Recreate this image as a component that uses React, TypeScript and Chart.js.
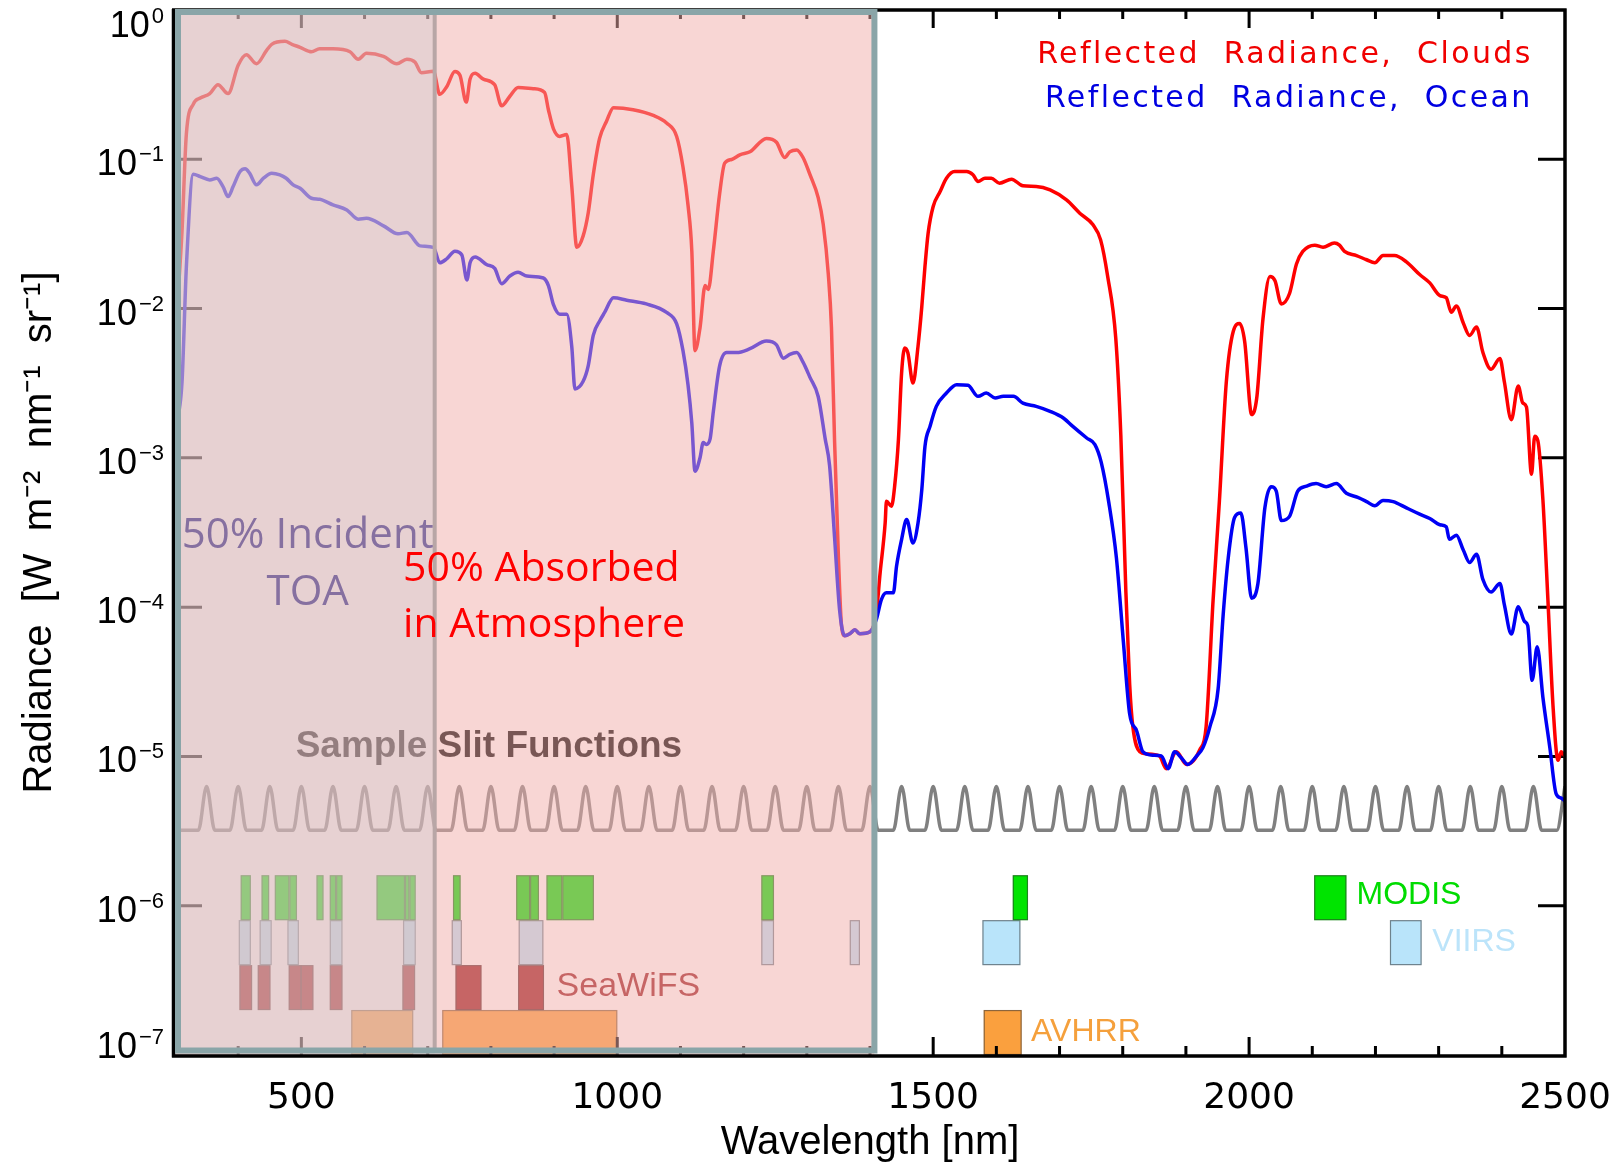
import React, { useEffect, useRef } from 'react';
import { Chart, registerables } from 'chart.js';

Chart.register(...registerables);

// ---------------- data (wavelength in nm, radiance as log10 of W m-2 nm-1 sr-1) ----------------
const cloudWavelength = [300,305,311,318,329,340,355,368,384,400,413,429,445,453,474,485,498,516,529,550,577,590,603,630,651,667,680,690,709,719,730,743,751,761,767,775,788,806,817,830,843,867,885,891,899,909,920,928,936,946,954,962,972,983,994,1025,1057,1078,1094,1104,1112,1118,1123,1131,1139,1144,1152,1162,1170,1181,1194,1210,1236,1252,1265,1273,1284,1294,1305,1318,1326,1334,1339,1344,1350,1355,1360,1368,1376,1384,1400,1410,1416,1424,1426,1434,1439,1445,1450,1455,1460,1468,1476,1482,1487,1492,1500,1511,1521,1534,1553,1563,1571,1582,1592,1605,1624,1642,1663,1685,1711,1732,1753,1765,1776,1789,1797,1805,1811,1816,1827,1837,1858,1869,1885,1901,1922,1932,1943,1953,1964,1975,1985,1993,2004,2012,2022,2033,2041,2051,2064,2075,2085,2104,2117,2135,2143,2151,2170,2186,2199,2212,2230,2249,2270,2286,2302,2312,2320,2328,2339,2349,2360,2370,2383,2397,2404,2415,2426,2433,2439,2447,2452,2457,2465,2473,2481,2489,2494,2500];
const cloudLogRadiance = [-2.2,-1.9,-1.49,-0.83,-0.63,-0.59,-0.56,-0.5,-0.56,-0.37,-0.3,-0.36,-0.27,-0.23,-0.21,-0.23,-0.25,-0.28,-0.26,-0.26,-0.28,-0.33,-0.29,-0.31,-0.36,-0.33,-0.35,-0.42,-0.41,-0.565,-0.514,-0.412,-0.437,-0.617,-0.463,-0.424,-0.463,-0.501,-0.642,-0.578,-0.519,-0.527,-0.552,-0.668,-0.796,-0.847,-0.834,-1.18,-1.59,-1.513,-1.36,-1.103,-0.86,-0.745,-0.655,-0.668,-0.706,-0.757,-0.847,-1.052,-1.308,-1.616,-2.282,-2.128,-1.846,-1.872,-1.616,-1.231,-1.026,-1.001,-0.97,-0.95,-0.86,-0.886,-0.988,-0.95,-0.937,-0.988,-1.103,-1.257,-1.436,-1.769,-2.128,-2.897,-3.665,-4.127,-4.191,-4.178,-4.152,-4.178,-4.165,-4.038,-3.771,-3.436,-3.291,-3.324,-3.19,-2.878,-2.432,-2.264,-2.298,-2.499,-2.253,-1.986,-1.718,-1.495,-1.316,-1.216,-1.127,-1.082,-1.082,-1.104,-1.149,-1.127,-1.127,-1.16,-1.133,-1.178,-1.182,-1.205,-1.272,-1.361,-1.439,-1.54,-1.78,-2.2,-2.85,-3.9,-4.518,-4.8,-4.969,-4.983,-4.997,-5.082,-4.969,-5.054,-4.955,-4.8,-3.955,-3.29,-2.49,-2.152,-2.1,-2.22,-2.71,-2.603,-2.068,-1.786,-1.814,-1.969,-1.899,-1.701,-1.617,-1.575,-1.589,-1.561,-1.575,-1.617,-1.645,-1.673,-1.693,-1.645,-1.645,-1.687,-1.772,-1.828,-1.913,-1.927,-2.025,-1.983,-2.096,-2.18,-2.124,-2.293,-2.406,-2.335,-2.49,-2.744,-2.518,-2.631,-2.659,-3.11,-2.856,-2.885,-3.279,-3.955,-4.659,-5.026,-4.969,-5.0];

const oceanWavelength = [300,311,318,329,340,355,366,376,384,392,403,411,418,429,440,453,466,476,487,498,516,529,550,572,590,603,630,653,667,688,709,719,730,743,754,762,767,775,793,806,817,830,843,857,883,891,899,909,920,928,933,946,954,962,973,980,994,1015,1046,1078,1094,1104,1112,1118,1123,1131,1136,1141,1147,1152,1162,1173,1189,1210,1236,1252,1263,1273,1284,1294,1305,1318,1329,1336,1344,1352,1360,1368,1376,1384,1400,1410,1418,1426,1437,1442,1450,1458,1468,1476,1482,1487,1495,1505,1521,1537,1555,1571,1584,1598,1611,1627,1642,1663,1685,1706,1721,1743,1756,1766,1778,1790,1801,1811,1822,1832,1848,1861,1872,1882,1893,1903,1917,1927,1938,1951,1959,1967,1977,1987,1995,2004,2014,2025,2035,2043,2051,2064,2077,2091,2106,2122,2138,2154,2172,2186,2199,2212,2228,2249,2270,2286,2302,2312,2317,2328,2339,2349,2360,2370,2383,2397,2404,2415,2426,2436,2441,2448,2456,2465,2476,2486,2494,2500];
const oceanLogRadiance = [-2.8,-2.5,-1.72,-1.1,-1.116,-1.138,-1.127,-1.183,-1.25,-1.183,-1.082,-1.064,-1.093,-1.171,-1.127,-1.093,-1.104,-1.127,-1.171,-1.194,-1.261,-1.268,-1.305,-1.339,-1.401,-1.395,-1.446,-1.499,-1.49,-1.58,-1.59,-1.693,-1.667,-1.616,-1.641,-1.808,-1.693,-1.654,-1.705,-1.731,-1.833,-1.782,-1.757,-1.782,-1.795,-1.846,-1.974,-2.038,-2.038,-2.256,-2.538,-2.487,-2.384,-2.179,-2.077,-2.026,-1.928,-1.944,-1.969,-2.026,-2.102,-2.282,-2.512,-2.769,-3.089,-2.999,-2.897,-2.91,-2.871,-2.692,-2.384,-2.295,-2.295,-2.269,-2.218,-2.243,-2.333,-2.307,-2.295,-2.359,-2.461,-2.589,-2.871,-3.05,-3.537,-4.024,-4.191,-4.178,-4.152,-4.178,-4.165,-4.083,-3.949,-3.904,-3.904,-3.726,-3.547,-3.413,-3.57,-3.436,-3.213,-2.923,-2.789,-2.655,-2.566,-2.51,-2.514,-2.588,-2.566,-2.599,-2.588,-2.588,-2.633,-2.655,-2.688,-2.733,-2.789,-2.867,-2.911,-3.03,-3.3,-3.67,-4.23,-4.716,-4.828,-4.969,-4.992,-4.997,-5.082,-4.969,-5.011,-5.054,-4.997,-4.941,-4.8,-4.547,-4.05,-3.67,-3.4,-3.37,-3.6,-3.94,-3.842,-3.335,-3.194,-3.223,-3.42,-3.392,-3.223,-3.189,-3.172,-3.194,-3.172,-3.237,-3.265,-3.293,-3.321,-3.285,-3.293,-3.335,-3.377,-3.406,-3.448,-3.462,-3.546,-3.518,-3.617,-3.701,-3.645,-3.814,-3.899,-3.842,-3.983,-4.18,-3.997,-4.096,-4.124,-4.49,-4.265,-4.603,-4.941,-5.251,-5.279,-5.3];

// sample slit functions
const slitCenters = [350,400,450,500,550,600,650,700,750,800,850,900,950,1000,1050,1100,1150,1200,1250,1300,1350,1400,1450,1500,1550,1600,1650,1700,1750,1800,1850,1900,1950,2000,2050,2100,2150,2200,2250,2300,2350,2400,2450,2500];
const slitBase = 3.2e-6;
const slitPeak = 6.3e-6;
const slitHalfWidth = 13;

// instrument bands [start nm, end nm]
const modisBands = [[404,420],[437,449],[458,481],[481,493],[524,535],[545,555],[555,565],[619,664],[664,671],[671,681],[740,752],[840,862],[862,876],[888,913],[913,963],[1228,1248],[1626,1650],[2103,2154]];
const viirsBands = [[401,420],[434,453],[478,496],[545,565],[661,681],[738,754],[844,883],[1228,1248],[1368,1384],[1578,1638],[2223,2273]];
const seawifsBands = [[402,422],[431,451],[480,500],[499,519],[545,565],[660,680],[744,785],[843,884]];
const avhrrBands = [[579,677],[723,1000],[1580,1640]];
// rows of the band chart, radiance range [low, high]
const modisRow = [8e-7, 1.6e-6];
const viirsRow = [4e-7, 8e-7];
const seawifsRow = [2e-7, 4e-7];
const avhrrRow = [1e-7, 2e-7];

// shaded regions (nm)
const absorbedRegion = [300, 1407];
const incidentRegion = [300, 711];

// ticks
const xMajorTicks = [500, 1000, 1500, 2000, 2500];
const yDecades = [1e-7, 1e-6, 1e-5, 1e-4, 1e-3, 1e-2, 1e-1, 1];

// ---------------- helpers ----------------
const toPoints = (xs: number[], logs: number[]) => xs.map((w, i) => ({ x: w, y: Math.pow(10, logs[i]) }));

function slitPoints() {
  const pts: { x: number; y: number }[] = [{ x: 300, y: slitBase }];
  slitCenters.forEach((c) => {
    pts.push({ x: c - slitHalfWidth, y: slitBase });
    pts.push({ x: c, y: slitPeak });
    if (c + slitHalfWidth <= 2500) pts.push({ x: c + slitHalfWidth, y: slitBase });
  });
  return pts;
}

const annotationPlugin = {
  id: 'annotations',
  beforeDatasetsDraw(chart: any) {
    const { ctx, chartArea: ca, scales } = chart;
    const x = scales.x, y = scales.y;
    const px = (v: number) => x.getPixelForValue(v);
    const py = (lg: number) => y.getPixelForValue(Math.pow(10, lg));
    ctx.save();
    const drawBands = (bands: number[][], row: number[], fill: string) => {
      const yTop = y.getPixelForValue(row[1]);
      const yBot = y.getPixelForValue(row[0]);
      bands.forEach(([a, b]) => {
        const x0 = px(a), x1 = px(b);
        ctx.fillStyle = fill;
        ctx.fillRect(x0, yTop, x1 - x0, yBot - yTop);
        ctx.strokeStyle = 'rgba(50,50,50,0.55)';
        ctx.lineWidth = 1.2;
        ctx.strokeRect(x0 + 0.5, yTop + 0.5, x1 - x0 - 1, yBot - yTop - 1);
      });
    };
    drawBands(avhrrBands, avhrrRow, 'rgb(250,160,62)');
    drawBands(seawifsBands, seawifsRow, 'rgb(155,28,32)');
    drawBands(viirsBands, viirsRow, 'rgb(185,228,250)');
    drawBands(modisBands, modisRow, 'rgb(0,228,0)');

    // labels that sit under the shading
    ctx.textAlign = 'left';
    ctx.textBaseline = 'alphabetic';
    ctx.fillStyle = '#000';
    ctx.font = 'bold 37px "Liberation Sans", Arial, sans-serif';
    ctx.fillText('Sample Slit Functions', px(491), py(-5.007));
    ctx.fillStyle = 'rgb(155,28,32)';
    ctx.font = '34px "Liberation Sans", Arial, sans-serif';
    ctx.fillText('SeaWiFS', px(904), py(-6.606));

    // inward tick marks
    ctx.strokeStyle = '#000';
    ctx.lineWidth = 3;
    ctx.beginPath();
    for (let v = 400; v <= 2400; v += 100) {
      const p = px(v);
      const len = xMajorTicks.includes(v) ? 18 : 9;
      ctx.moveTo(p, ca.bottom); ctx.lineTo(p, ca.bottom - len);
      ctx.moveTo(p, ca.top); ctx.lineTo(p, ca.top + len);
    }
    yDecades.slice(1, -1).forEach((d) => {
      const p = y.getPixelForValue(d);
      ctx.moveTo(ca.left, p); ctx.lineTo(ca.left + 27, p);
      ctx.moveTo(ca.right, p); ctx.lineTo(ca.right - 27, p);
    });
    ctx.stroke();
    ctx.restore();
  },
  afterDatasetsDraw(chart: any) {
    const { ctx, chartArea: ca, scales } = chart;
    const x = scales.x, y = scales.y;
    const px = (v: number) => x.getPixelForValue(v);
    const py = (lg: number) => y.getPixelForValue(Math.pow(10, lg));
    ctx.save();
    const xl = px(absorbedRegion[0]);
    const xr = px(absorbedRegion[1]);
    const xg = px(incidentRegion[1]);
    // 50% absorbed shading
    ctx.fillStyle = 'rgba(241,173,169,0.5)';
    ctx.fillRect(xl, ca.top, xr - xl, ca.bottom - ca.top);
    // 50% incident shading
    ctx.fillStyle = 'rgba(200,200,205,0.35)';
    ctx.fillRect(xl, ca.top, xg - xl, ca.bottom - ca.top);
    ctx.strokeStyle = 'rgb(184,166,166)';
    ctx.lineWidth = 4;
    ctx.beginPath();
    ctx.moveTo(xg, ca.top + 4); ctx.lineTo(xg, ca.bottom - 6);
    ctx.stroke();

    // black frame
    ctx.strokeStyle = '#000';
    ctx.lineWidth = 3.5;
    ctx.beginPath();
    ctx.moveTo(ca.left - 1.5, ca.top - 1); ctx.lineTo(ca.left - 1.5, ca.bottom + 2.5);
    ctx.moveTo(ca.left - 3, ca.bottom + 1); ctx.lineTo(ca.right + 1.5, ca.bottom + 1);
    ctx.moveTo(ca.right, ca.bottom + 2.5); ctx.lineTo(ca.right, ca.top - 1.5);
    ctx.moveTo(ca.right + 1.5, ca.top); ctx.lineTo(ca.left - 3, ca.top);
    ctx.stroke();

    // teal border of the absorbed box
    ctx.strokeStyle = 'rgb(138,165,168)';
    ctx.lineWidth = 6;
    ctx.strokeRect(xl + 3, ca.top + 2, xr - xl - 3, ca.bottom - 4.5 - ca.top - 2);

    // labels on top
    ctx.textBaseline = 'alphabetic';
    ctx.font = '42px "Open Sans", sans-serif';
    ctx.fillStyle = '#8670A0';
    ctx.textAlign = 'center';
    ctx.fillText('50% Incident', px(510), py(-3.601));
    ctx.fillText('TOA', px(510), py(-3.983));
    ctx.font = '41px "Open Sans", sans-serif';
    ctx.fillStyle = '#ff0000';
    ctx.textAlign = 'left';
    ctx.fillText('50% Absorbed', px(661), py(-3.822));
    ctx.fillText('in Atmosphere', px(661), py(-4.197));

    ctx.font = '32px "Liberation Sans", Arial, sans-serif';
    ctx.fillStyle = 'rgb(0,220,0)';
    ctx.fillText('MODIS', px(2170), py(-5.991));
    ctx.fillStyle = 'rgb(188,228,250)';
    ctx.fillText('VIIRS', px(2290), py(-6.305));
    ctx.fillStyle = 'rgb(245,160,60)';
    ctx.fillText('AVHRR', px(1655), py(-6.908));

    // legend
    ctx.font = '30px "DejaVu Sans", sans-serif';
    try { (ctx as any).letterSpacing = '2.4px'; } catch (e) {}
    ctx.textAlign = 'right';
    ctx.fillStyle = 'rgb(240,0,0)';
    ctx.fillText('Reflected  Radiance,  Clouds', px(2449), py(-0.355));
    ctx.fillStyle = 'rgb(0,0,225)';
    ctx.fillText('Reflected  Radiance,  Ocean', px(2449), py(-0.649));
    try { (ctx as any).letterSpacing = '0px'; } catch (e) {}
    ctx.restore();
  },
  afterDraw(chart: any) {
    const { ctx, chartArea: ca, scales } = chart;
    const y = scales.y;
    ctx.save();
    ctx.fillStyle = '#000';
    ctx.textBaseline = 'alphabetic';
    const rightEdge = ca.left - 11;
    yDecades.forEach((v, i) => {
      let p = y.getPixelForValue(v);
      // the end labels are kept inside the axis range
      if (i === 0) p -= 13;
      if (i === yDecades.length - 1) p += 11;
      const e = Math.round(Math.log10(v));
      const expText = e === 0 ? '0' : '\u2212' + String(-e);
      ctx.font = '22px "Liberation Sans", Arial, sans-serif';
      const ew = ctx.measureText(expText).width;
      ctx.textAlign = 'left';
      ctx.fillText(expText, rightEdge - ew, p + 2);
      ctx.font = '36px "Liberation Sans", Arial, sans-serif';
      ctx.textAlign = 'right';
      ctx.fillText('10', rightEdge - ew - 2, p + 16);
    });
    ctx.restore();
  },
};

export default function App() {
  const ref = useRef<HTMLCanvasElement>(null);
  useEffect(() => {
    const canvas = ref.current;
    if (!canvas) return;
    const chart = new Chart(canvas, {
      type: 'line',
      data: {
        datasets: [
          {
            label: 'Reflected Radiance, Ocean',
            data: toPoints(oceanWavelength, oceanLogRadiance),
            borderColor: 'rgb(0,0,245)',
            borderWidth: 3.5,
            pointRadius: 0,
            cubicInterpolationMode: 'monotone',
          },
          {
            label: 'Reflected Radiance, Clouds',
            data: toPoints(cloudWavelength, cloudLogRadiance),
            borderColor: 'rgb(255,0,0)',
            borderWidth: 3.5,
            pointRadius: 0,
            cubicInterpolationMode: 'monotone',
          },
          {
            label: 'Sample Slit Functions',
            data: slitPoints(),
            borderColor: 'rgb(128,128,128)',
            borderWidth: 3.5,
            pointRadius: 0,
            cubicInterpolationMode: 'monotone',
          },
        ],
      },
      options: {
        animation: false,
        responsive: false,
        maintainAspectRatio: false,
        layout: { padding: { top: 10, right: 50, left: 0, bottom: 0 } },
        plugins: { legend: { display: false }, tooltip: { enabled: false } },
        scales: {
          x: {
            type: 'linear',
            min: 300,
            max: 2500,
            afterBuildTicks: (s: any) => { s.ticks = xMajorTicks.map((v) => ({ value: v })); },
            afterFit: (s: any) => { s.height = 113; s.paddingLeft = 0; s.paddingRight = 0; },
            grid: { display: false, drawTicks: false },
            border: { display: false },
            ticks: {
              font: { family: '"DejaVu Sans", sans-serif', size: 36 },
              color: '#000',
              padding: 22,
              maxRotation: 0,
              autoSkip: false,
              callback: (v: any) => String(v),
            },
            title: {
              display: true,
              text: 'Wavelength [nm]',
              color: '#000',
              font: { family: '"Liberation Sans", Arial, sans-serif', size: 40 },
              padding: { top: 0, bottom: 1 },
            },
          },
          y: {
            type: 'logarithmic',
            min: 1e-7,
            max: 1,
            afterBuildTicks: (s: any) => { s.ticks = yDecades.map((v) => ({ value: v })); },
            afterFit: (s: any) => { s.width = 175; s.paddingTop = 0; s.paddingBottom = 0; },
            grid: { display: false, drawTicks: false },
            border: { display: false },
            ticks: { display: false },
            title: {
              display: true,
              text: 'Radiance  [W  m\u207B\u00B2  nm\u207B\u00B9  sr\u207B\u00B9]',
              color: '#000',
              font: { family: '"Liberation Sans", Arial, sans-serif', size: 40 },
              padding: { top: 16, bottom: 0 },
            },
          },
        },
      } as any,
      plugins: [annotationPlugin],
    } as any);
    return () => chart.destroy();
  }, []);
  return (
    <div style={{ position: 'absolute', left: 0, top: 0, width: 1615, height: 1168, background: '#fff' }}>
      <canvas ref={ref} width={1615} height={1168} style={{ width: 1615, height: 1168, display: 'block' }} />
    </div>
  );
}
